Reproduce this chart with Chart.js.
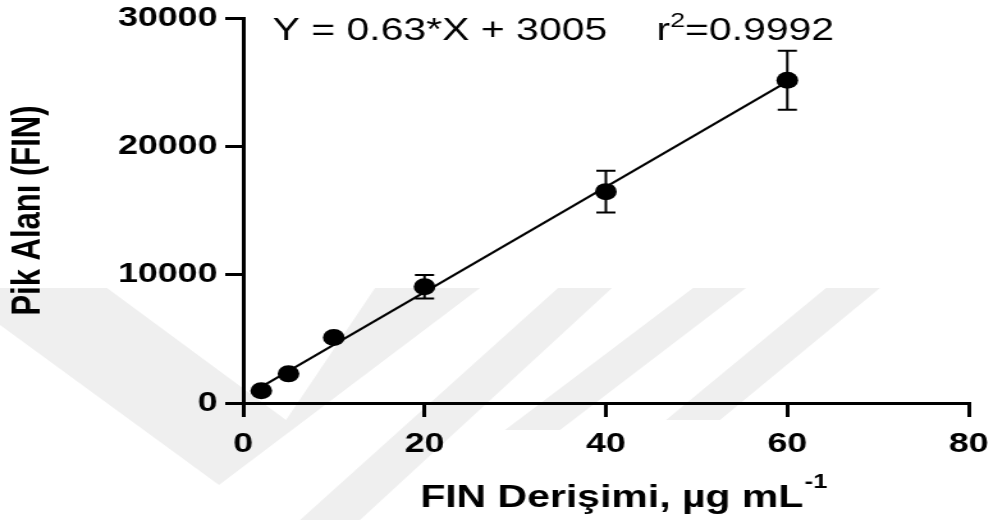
<!DOCTYPE html>
<html>
<head>
<meta charset="utf-8">
<script src="https://cdn.jsdelivr.net/npm/chart.js@4/dist/chart.umd.min.js"></script>
<style>
  html, body { margin: 0; padding: 0; background: #fff; overflow: hidden; }
  /* el gráfico original está estirado horizontalmente */
  #wrap { width: 776px; height: 520px; transform: scaleX(1.2796); transform-origin: 0 0; }
</style>
</head>
<body>
<div id="wrap"><canvas id="grafico"></canvas></div>
<script>
// datos
const concentrations = [2, 5, 10, 20, 40, 60];
const peakAreas = [960, 2270, 5100, 9060, 16470, 25150];
const peakErrors = [0, 0, 0, 920, 1620, 2290];
const fitX = [2, 60];
const fitY = [1260, 25040];
const xTicks = [0, 20, 40, 60, 80];
const yTicks = [0, 10000, 20000, 30000];

const S = 1.2796;
const FONT = "'Liberation Sans', Arial, Helvetica, sans-serif";

// marca de agua gris de fondo
const watermark = {
  id: 'watermark',
  beforeDraw(chart) {
    const ctx = chart.ctx;
    const shapes = [
      [[0, 288], [107, 288], [286, 420], [375, 288], [480, 288], [219, 485], [0, 325]],
      [[558, 288], [612, 288], [360, 520], [300, 520]],
      [[693, 288], [746, 288], [560, 430], [505, 430]],
      [[826, 288], [880, 288], [720, 420], [666, 420]]
    ];
    ctx.save();
    ctx.fillStyle = '#efefef';
    shapes.forEach(poly => {
      ctx.beginPath();
      poly.forEach(([px, py], i) => i ? ctx.lineTo(px / S, py) : ctx.moveTo(px / S, py));
      ctx.closePath();
      ctx.fill();
    });
    ctx.restore();
  }
};

// barras de error
const errorBars = {
  id: 'errorBars',
  afterDatasetsDraw(chart) {
    const { ctx, scales: { x, y } } = chart;
    ctx.save();
    ctx.strokeStyle = '#000';
    ctx.lineWidth = 2;
    concentrations.forEach((c, i) => {
      const e = peakErrors[i];
      if (!e) return;
      const px = x.getPixelForValue(c);
      const top = y.getPixelForValue(peakAreas[i] + e);
      const bot = y.getPixelForValue(peakAreas[i] - e);
      const cap = 7.5;
      ctx.beginPath();
      ctx.moveTo(px, top); ctx.lineTo(px, bot);
      ctx.moveTo(px - cap, top); ctx.lineTo(px + cap, top);
      ctx.moveTo(px - cap, bot); ctx.lineTo(px + cap, bot);
      ctx.stroke();
    });
    ctx.restore();
  }
};

// ecuación y título del eje x (con superíndices)
const texts = {
  id: 'texts',
  afterDraw(chart) {
    const ctx = chart.ctx;
    ctx.save();
    ctx.fillStyle = '#000';
    ctx.textBaseline = 'alphabetic';

    ctx.font = `32px ${FONT}`;
    ctx.fillText('Y = 0.63*X + 3005', 213, 40);
    let xr = 513;
    ctx.fillText('r', xr, 40);
    xr += ctx.measureText('r').width;
    ctx.font = `21px ${FONT}`;
    ctx.fillText('2', xr, 27);
    xr += ctx.measureText('2').width;
    ctx.font = `32px ${FONT}`;
    ctx.fillText('=0.9992', xr, 40);

    const main = 'FIN Derişimi, µg mL';
    ctx.font = `bold 32px ${FONT}`;
    const w1 = ctx.measureText(main).width;
    ctx.font = `bold 20px ${FONT}`;
    const w2 = ctx.measureText('-1').width;
    const x0 = 487 - (w1 + w2) / 2;
    ctx.font = `bold 32px ${FONT}`;
    ctx.fillText(main, x0, 507);
    ctx.font = `bold 20px ${FONT}`;
    ctx.fillText('-1', x0 + w1 + 1, 488);
    ctx.restore();
  }
};

const axisStyle = {
  border: { display: true, color: '#000', width: 3 },
  grid: { drawOnChartArea: false, drawTicks: true, tickLength: 14, color: '#000', lineWidth: 3 },
  ticks: { color: '#000', font: { family: FONT, size: 28, weight: 'bold' }, callback: v => String(v) }
};

const ctx = document.getElementById('grafico').getContext('2d');
new Chart(ctx, {
  data: {
    datasets: [
      {
        type: 'line',
        data: fitX.map((v, i) => ({ x: v, y: fitY[i] })),
        borderColor: '#000',
        borderWidth: 2,
        pointRadius: 0,
        fill: false
      },
      {
        type: 'scatter',
        data: concentrations.map((v, i) => ({ x: v, y: peakAreas[i] })),
        backgroundColor: '#000',
        borderColor: '#000',
        pointRadius: 8.5,
        pointBorderWidth: 0
      }
    ]
  },
  options: {
    responsive: true,
    maintainAspectRatio: false,
    animation: false,
    layout: { padding: { top: 18, right: 19, left: 0, bottom: 0 } },
    plugins: { legend: { display: false }, tooltip: { enabled: false } },
    scales: {
      x: {
        type: 'linear',
        min: 0, max: 80,
        ...axisStyle,
        ticks: { ...axisStyle.ticks, padding: 10, maxRotation: 0 },
        afterBuildTicks: axis => { axis.ticks = xTicks.map(v => ({ value: v })); },
        afterFit: scale => { scale.height = 117; scale.paddingRight = 0; scale.paddingLeft = 0; }
      },
      y: {
        type: 'linear',
        min: 0, max: 30000,
        ...axisStyle,
        ticks: { ...axisStyle.ticks, padding: 6 },
        afterBuildTicks: axis => { axis.ticks = yTicks.map(v => ({ value: v })); },
        afterFit: scale => { scale.width = 190; scale.paddingTop = 0; scale.paddingBottom = 0; },
        title: {
          display: true,
          text: 'Pik Alanı (FIN)',
          color: '#000',
          font: { family: FONT, size: 31, weight: 'bold' },
          padding: { top: 4, bottom: 0 }
        }
      }
    }
  },
  plugins: [watermark, errorBars, texts]
});
</script>
</body>
</html>
